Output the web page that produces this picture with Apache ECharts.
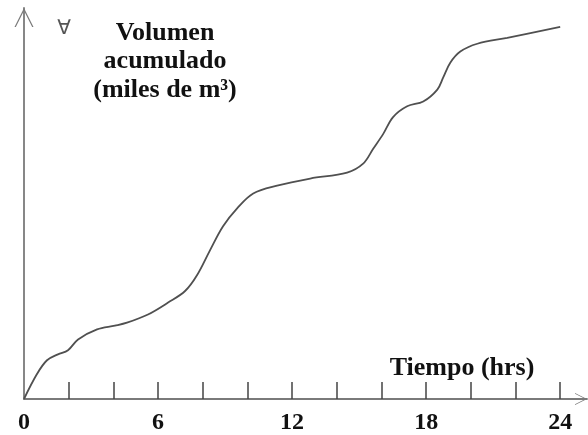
<!DOCTYPE html>
<html lang="es">
<head>
    <meta charset="UTF-8">
    <title>Volumen acumulado</title>
    <script src="https://cdn.jsdelivr.net/npm/echarts@6/dist/echarts.min.js"></script>
</head>
<body style="margin:0">
<div id="chart" style="width: 588px;height:435px;"></div>
<script>
    // curva de volumen acumulado
    let horas = [0, 0.58, 1.03, 1.52, 1.97, 2.42, 3.27, 4.07, 4.61, 5.55, 6.45, 7.21, 7.75, 8.33, 8.91, 9.54,
        10.26, 11.33, 12.81, 14.46, 15.18, 15.63, 16.08, 16.52, 17.15, 17.87, 18.5, 18.76, 19.08, 19.53,
        20.29, 21.63, 24.0]
    let volumen = [0, 6.7, 10.4, 12.0, 13.1, 16.0, 18.7, 19.7, 20.5, 22.7, 25.9, 29.0, 33.3, 40.0, 46.4, 51.2,
        55.2, 57.3, 59.2, 60.8, 63.2, 67.2, 71.2, 75.7, 78.6, 79.9, 83.1, 86.3, 90.3, 93.3,
        95.4, 97.0, 99.9]

    let marcas = [2, 4, 6, 8, 10, 12, 14, 16, 18, 20, 22, 24]
    let etiquetas = [0, 6, 12, 18, 24]

    let curva = [];
    for (let i = 0; i < horas.length; i++) {
        curva.push([horas[i], volumen[i]]);
    }

    // flecha abierta para el final de los ejes
    let flecha = 'path://M0,100 L50,0 L100,100 L93,100 L50,14 L7,100 Z';
    let serif = '"Liberation Serif", "Times New Roman", serif';

    let chart = echarts.init(document.getElementById('chart'));

    let option = {
        animation: false,
        grid: {left: 24, right: 1, top: 8, bottom: 33},
        xAxis: {
            type: 'value',
            min: 0,
            max: 25.2,
            splitLine: {show: false},
            axisLine: {
                lineStyle: {color: '#7a7a7a', width: 1.8},
                symbol: ['none', flecha],
                symbolSize: [26, 12],
                symbolOffset: [0, -6]
            },
            axisTick: {
                inside: true,
                length: 17,
                customValues: marcas,
                lineStyle: {color: '#444', width: 1.5}
            },
            axisLabel: {
                customValues: etiquetas,
                margin: 12,
                color: '#111',
                fontFamily: serif,
                fontWeight: 'bold',
                fontSize: 24
            }
        },
        yAxis: {
            type: 'value',
            min: 0,
            max: 105,
            splitLine: {show: false},
            axisTick: {show: false},
            axisLabel: {show: false},
            axisLine: {
                lineStyle: {color: '#7a7a7a', width: 1.8},
                symbol: ['none', flecha],
                symbolSize: [28, 19],
                symbolOffset: [0, -9.5]
            }
        },
        series: [{
            type: 'line',
            data: curva,
            smooth: 0.35,
            showSymbol: false,
            lineStyle: {color: '#505050', width: 1.8}
        }],
        graphic: [
            {
                type: 'text',
                x: 165,
                y: 19,
                style: {
                    text: 'Volumen\nacumulado\n(miles de m³)',
                    align: 'center',
                    verticalAlign: 'top',
                    lineHeight: 28.5,
                    font: 'bold 26px ' + serif,
                    fill: '#111'
                }
            },
            {
                type: 'text',
                x: 64,
                y: 29,
                style: {
                    text: '∀',
                    align: 'center',
                    verticalAlign: 'middle',
                    font: '20px "DejaVu Sans"',
                    fill: '#555'
                }
            },
            {
                type: 'text',
                x: 462,
                y: 368,
                style: {
                    text: 'Tiempo (hrs)',
                    align: 'center',
                    verticalAlign: 'middle',
                    font: 'bold 26px ' + serif,
                    fill: '#111'
                }
            }
        ]
    };
    chart.setOption(option);
</script>
</body>
</html>
